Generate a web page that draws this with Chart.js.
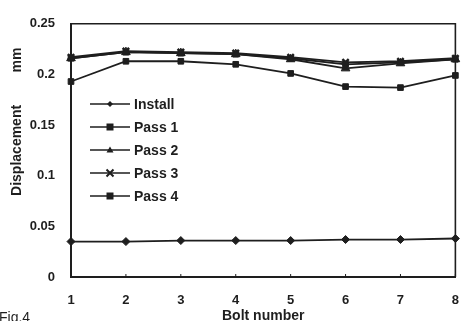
<!DOCTYPE html>
<html>
<head>
<meta charset="utf-8">
<script src="https://cdn.jsdelivr.net/npm/chart.js@4/dist/chart.umd.min.js"></script>
<style>
  html, body { margin: 0; padding: 0; background: #ffffff; }
  #wrap { width: 475px; height: 321px; overflow: hidden; }
</style>
</head>
<body>
<div id="wrap"><canvas id="c" width="475" height="321"></canvas></div>
<script>
// Bolt positions along the joint
const bolts = ['1', '2', '3', '4', '5', '6', '7', '8'];

// Measured displacement (mm) per bolt after each tightening pass
const install = [0.035, 0.035, 0.036, 0.036, 0.036, 0.037, 0.037, 0.038];
const pass1   = [0.193, 0.213, 0.213, 0.210, 0.201, 0.188, 0.187, 0.199];
const pass2   = [0.216, 0.222, 0.221, 0.220, 0.215, 0.206, 0.211, 0.215];
const pass3   = [0.217, 0.223, 0.222, 0.221, 0.217, 0.212, 0.213, 0.216];
const pass4   = [0.216, 0.222, 0.221, 0.220, 0.216, 0.210, 0.212, 0.215];

const seriesNames = ['Install', 'Pass 1', 'Pass 2', 'Pass 3', 'Pass 4'];
const seriesData  = [install, pass1, pass2, pass3, pass4];

const yMin = 0, yMax = 0.25, yStep = 0.05;

const INK = '#1e1e1e';
const FONT = "'Liberation Sans', Arial, Helvetica, sans-serif";

const markerStyles = [
  { pointStyle: 'rectRot',  radius: 4 },
  { pointStyle: 'rect',     radius: 4 },
  { pointStyle: 'triangle', radius: 5 },
  { pointStyle: 'crossRot', radius: 4.5 },
  { pointStyle: 'rect',     radius: 4 }
];

const datasets = seriesNames.map((name, i) => ({
  label: name,
  data: seriesData[i],
  borderColor: INK,
  backgroundColor: INK,
  borderWidth: 1.8,
  pointStyle: markerStyles[i].pointStyle,
  pointRadius: markerStyles[i].radius,
  pointBorderWidth: markerStyles[i].pointStyle === 'crossRot' ? 2.5 : 1,
  pointBorderColor: INK,
  pointBackgroundColor: INK,
  tension: 0,
  clip: false
}));

// Small marker painter for the in-plot key
function drawMarker(ctx, style, x, y, r) {
  ctx.save();
  ctx.fillStyle = INK;
  ctx.strokeStyle = INK;
  ctx.lineWidth = 2;
  ctx.beginPath();
  if (style === 'rect') {
    ctx.rect(x - r, y - r, 2 * r, 2 * r);
    ctx.fill();
  } else if (style === 'rectRot') {
    ctx.moveTo(x, y - r); ctx.lineTo(x + r, y); ctx.lineTo(x, y + r); ctx.lineTo(x - r, y);
    ctx.closePath(); ctx.fill();
  } else if (style === 'triangle') {
    ctx.moveTo(x, y - r); ctx.lineTo(x + r, y + r * 0.7); ctx.lineTo(x - r, y + r * 0.7);
    ctx.closePath(); ctx.fill();
  } else if (style === 'crossRot') {
    ctx.moveTo(x - r, y - r); ctx.lineTo(x + r, y + r);
    ctx.moveTo(x + r, y - r); ctx.lineTo(x - r, y + r);
    ctx.stroke();
  }
  ctx.restore();
}

const decor = {
  id: 'decor',
  beforeDatasetsDraw(chart) {
    const { ctx, chartArea: a, scales } = chart;
    ctx.save();
    ctx.strokeStyle = INK;
    // top and right edges of the plot frame
    ctx.lineWidth = 1.6;
    ctx.beginPath();
    ctx.moveTo(a.left, a.top);
    ctx.lineTo(a.right, a.top);
    ctx.lineTo(a.right, a.bottom);
    ctx.stroke();
    // short inward tick marks on the bolt axis
    ctx.lineWidth = 1;
    bolts.forEach((b, i) => {
      const x = scales.x.getPixelForValue(i);
      ctx.beginPath();
      ctx.moveTo(x, a.bottom);
      ctx.lineTo(x, a.bottom - 3);
      ctx.stroke();
    });
    ctx.restore();
  },
  afterDraw(chart) {
    const { ctx } = chart;
    ctx.save();
    // key inside the plot
    const x0 = 90, x1 = 130, tx = 134, y0 = 104, dy = 23;
    ctx.font = 'bold 14px ' + FONT;
    ctx.textBaseline = 'middle';
    ctx.textAlign = 'left';
    chart.data.datasets.forEach((ds, i) => {
      const y = y0 + i * dy;
      ctx.strokeStyle = INK;
      ctx.lineWidth = 1.6;
      ctx.beginPath();
      ctx.moveTo(x0, y);
      ctx.lineTo(x1, y);
      ctx.stroke();
      drawMarker(ctx, ds.pointStyle, (x0 + x1) / 2, y, i === 0 ? 3 : 3.5);
      ctx.fillStyle = INK;
      ctx.fillText(ds.label, tx, y + 1);
    });
    // unit label beside the value axis
    ctx.translate(17, 60);
    ctx.rotate(-Math.PI / 2);
    ctx.textAlign = 'center';
    ctx.fillText('mm', 0, 0);
    ctx.restore();
    // figure caption
    ctx.save();
    ctx.font = '14px ' + FONT;
    ctx.fillStyle = INK;
    ctx.textBaseline = 'top';
    ctx.textAlign = 'left';
    ctx.fillText('Fig.4', -1, 311);
    ctx.restore();
  }
};

new Chart(document.getElementById('c'), {
  type: 'line',
  data: { labels: bolts, datasets },
  plugins: [decor],
  options: {
    responsive: false,
    animation: false,
    devicePixelRatio: 1,
    layout: { padding: { top: 18, right: 8, left: 0, bottom: 0 } },
    plugins: {
      legend: { display: false },
      tooltip: { enabled: false }
    },
    scales: {
      x: {
        offset: false,
        grid: { display: false, drawTicks: false },
        border: { display: true, color: INK, width: 2 },
        ticks: {
          color: INK,
          padding: 16,
          font: { family: FONT, size: 13, weight: 'bold' },
          maxRotation: 0
        },
        title: {
          display: true,
          text: 'Bolt number',
          color: INK,
          font: { family: FONT, size: 14, weight: 'bold' },
          padding: { top: 0, bottom: -4 }
        },
        afterFit(scale) { scale.height = 44; }
      },
      y: {
        min: yMin,
        max: yMax,
        grid: { display: false, drawTicks: false },
        border: { display: true, color: INK, width: 2 },
        ticks: {
          stepSize: yStep,
          color: INK,
          padding: 16,
          font: { family: FONT, size: 13, weight: 'bold' },
          callback: v => String(+v.toFixed(2))
        },
        title: {
          display: true,
          text: 'Displacement',
          color: INK,
          font: { family: FONT, size: 14, weight: 'bold' },
          padding: { top: 8.6, bottom: 0 }
        },
        afterFit(scale) { scale.width = 71; }
      }
    }
  }
});
</script>
</body>
</html>
